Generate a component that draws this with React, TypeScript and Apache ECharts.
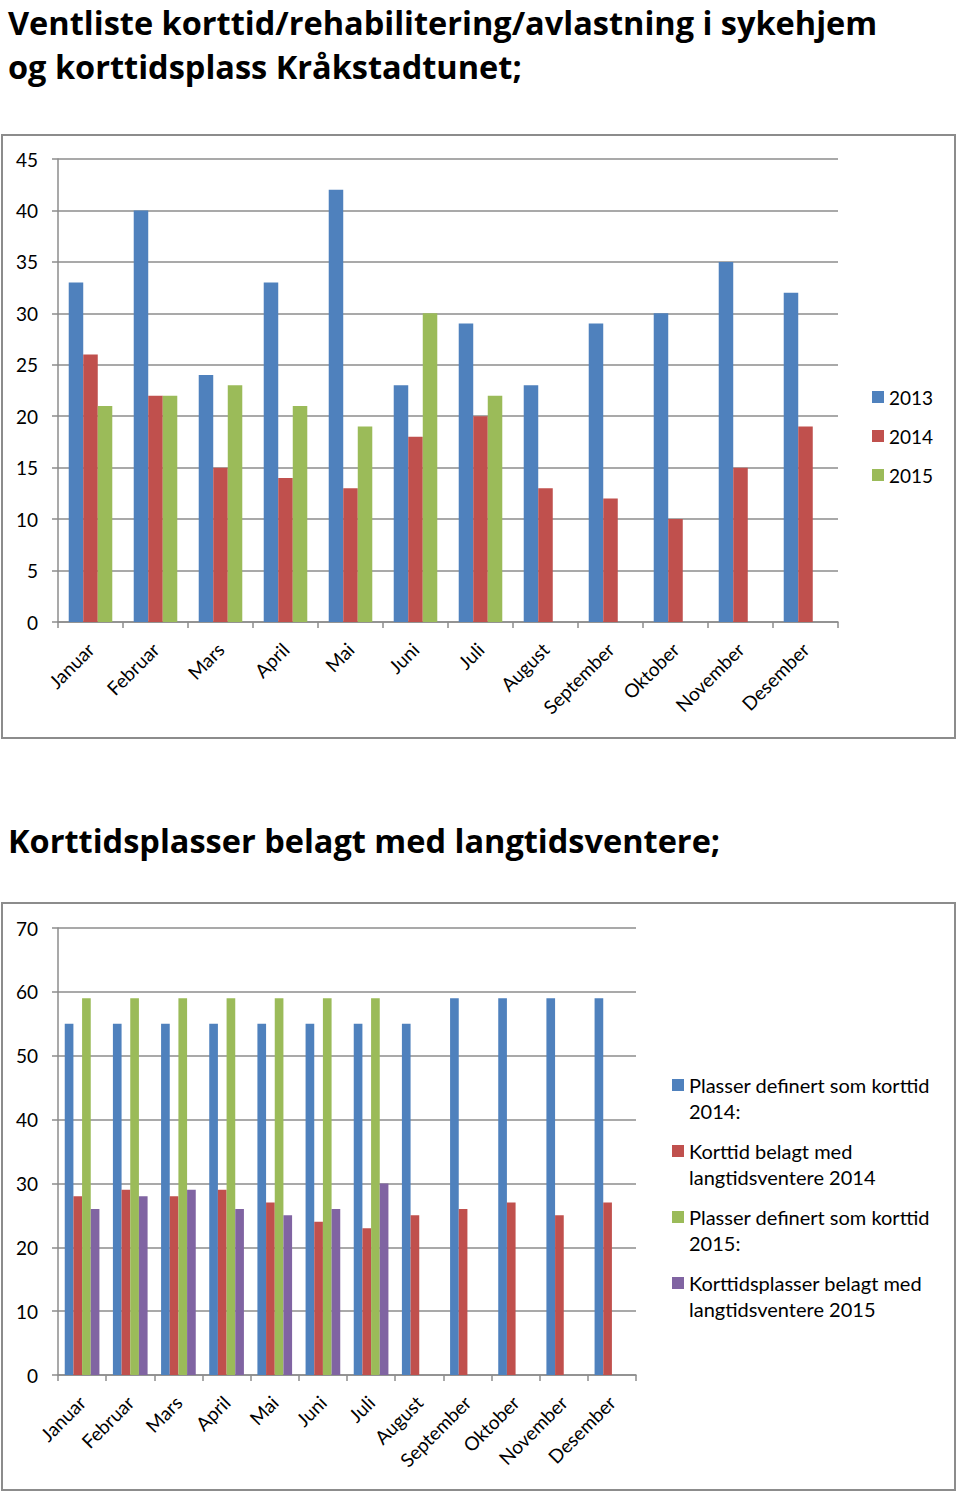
import React, { useEffect, useRef } from 'react';
import * as echarts from 'echarts';

const months = ['Januar', 'Februar', 'Mars', 'April', 'Mai', 'Juni', 'Juli', 'August', 'September', 'Oktober', 'November', 'Desember'];

const title1Lines = ['Ventliste korttid/rehabilitering/avlastning i sykehjem', 'og korttidsplass Kråkstadtunet;'];
const title2 = 'Korttidsplasser belagt med langtidsventere;';

const waitYears = ['2013', '2014', '2015'];
const wait2013 = [33, 40, 24, 33, 42, 23, 29, 23, 29, 30, 35, 32];
const wait2014 = [26, 22, 15, 14, 13, 18, 20, 13, 12, 10, 15, 19];
const wait2015 = [21, 22, 23, 21, 19, 30, 22, null, null, null, null, null];

const bedNames = [
  'Plasser definert som korttid 2014:',
  'Korttid belagt med langtidsventere 2014',
  'Plasser definert som korttid 2015:',
  'Korttidsplasser belagt med langtidsventere 2015',
];
const bedLegendLines = [
  ['Plasser definert som korttid', '2014:'],
  ['Korttid belagt med', 'langtidsventere 2014'],
  ['Plasser definert som korttid', '2015:'],
  ['Korttidsplasser belagt med', 'langtidsventere 2015'],
];
const places2014 = [55, 55, 55, 55, 55, 55, 55, 55, 59, 59, 59, 59];
const occupied2014 = [28, 29, 28, 29, 27, 24, 23, 25, 26, 27, 25, 27];
const places2015 = [59, 59, 59, 59, 59, 59, 59, null, null, null, null, null];
const occupied2015 = [26, 28, 29, 26, 25, 26, 30, null, null, null, null, null];

const colors = ['#4F81BD', '#C0504D', '#9BBB59', '#8064A2'];
const FONT = 'Lato';
const TITLE_FONT = 'Open Sans';
const GRID_COLOR = '#8c8c8c';

function xAxis(gridIndex: number) {
  return {
    type: 'category',
    gridIndex,
    data: months,
    axisLine: { lineStyle: { color: GRID_COLOR, width: 1.5 } },
    axisTick: { show: true, length: 6, lineStyle: { color: GRID_COLOR, width: 1.5 } },
    axisLabel: { rotate: 45, margin: 24, fontSize: 19, color: '#000', fontFamily: FONT, interval: 0 },
  };
}

function yAxis(gridIndex: number, max: number, interval: number) {
  return {
    type: 'value',
    gridIndex,
    min: 0,
    max,
    interval,
    axisLine: { show: true, lineStyle: { color: GRID_COLOR, width: 1.5 } },
    axisTick: { show: true, length: 6, lineStyle: { color: GRID_COLOR, width: 1.5 } },
    splitLine: { show: true, lineStyle: { color: GRID_COLOR, width: 1.5 } },
    axisLabel: { fontSize: 19, color: '#000', fontFamily: FONT, margin: 20 },
  };
}

const titleStyle = { fontSize: 32.5, fontWeight: 'bold', lineHeight: 38, color: '#000', fontFamily: TITLE_FONT };

export default function App() {
  const ref = useRef<HTMLDivElement>(null);
  useEffect(() => {
    document.body.style.margin = '0';
    if (!ref.current) return;
    const chart = echarts.init(ref.current, null, { renderer: 'svg' });
    const waitData = [wait2013, wait2014, wait2015];
    const bedData = [places2014, occupied2014, places2015, occupied2015];
    const option: any = {
      animation: false,
      backgroundColor: '#fff',
      title: [
        { text: title1Lines[0], left: 8, top: 3, padding: 0, textStyle: titleStyle },
        { text: title1Lines[1], left: 8, top: 47, padding: 0, textStyle: titleStyle },
        { text: title2, left: 8, top: 821, padding: 0, textStyle: titleStyle },
      ],
      graphic: [
        { type: 'rect', shape: { x: 2, y: 135, width: 953, height: 603 }, style: { fill: 'none', stroke: '#8c8c8c', lineWidth: 2 }, z: 0 },
        { type: 'rect', shape: { x: 2, y: 903, width: 953, height: 587 }, style: { fill: 'none', stroke: '#8c8c8c', lineWidth: 2 }, z: 0 },
      ],
      grid: [
        { left: 58, top: 159, width: 780, height: 463 },
        { left: 58, top: 928, width: 578, height: 447 },
      ],
      xAxis: [xAxis(0), xAxis(1)],
      yAxis: [yAxis(0, 45, 5), yAxis(1, 70, 10)],
      legend: [
        {
          data: waitYears,
          orient: 'vertical',
          left: 872,
          top: 386,
          padding: 0,
          icon: 'rect',
          itemWidth: 12,
          itemHeight: 12,
          itemGap: 17,
          textStyle: { fontSize: 19, lineHeight: 22, color: '#000', fontFamily: FONT },
        },
        {
          data: bedNames,
          orient: 'vertical',
          left: 672,
          top: 1046,
          padding: 0,
          icon: 'rect',
          itemWidth: 12,
          itemHeight: 12,
          itemGap: -12,
          formatter: (name: string) => '\n' + bedLegendLines[bedNames.indexOf(name)].join('\n'),
          textStyle: { fontSize: 20, lineHeight: 26, color: '#000', fontFamily: FONT },
        },
      ],
      series: [
        ...waitYears.map((name, i) => ({
          name,
          type: 'bar',
          xAxisIndex: 0,
          yAxisIndex: 0,
          data: waitData[i],
          itemStyle: { color: colors[i] },
          barGap: '0%',
          barCategoryGap: '33%',
        })),
        ...bedNames.map((name, i) => ({
          name,
          type: 'bar',
          xAxisIndex: 1,
          yAxisIndex: 1,
          data: bedData[i],
          itemStyle: { color: colors[i] },
          barGap: '0%',
          barCategoryGap: '28%',
        })),
      ],
    };
    chart.setOption(option);
    return () => chart.dispose();
  }, []);
  return <div ref={ref} style={{ width: 960, height: 1494 }} />;
}
